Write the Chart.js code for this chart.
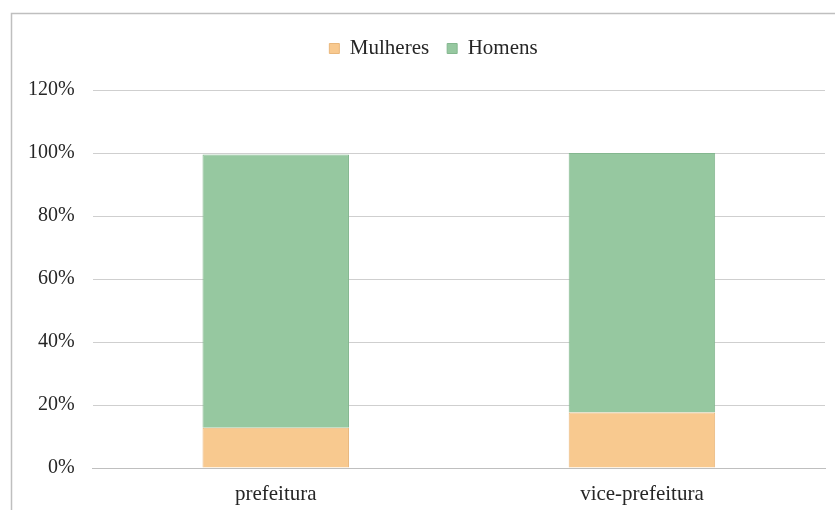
<!DOCTYPE html>
<html>
<head>
<meta charset="utf-8">
<script src="https://cdn.jsdelivr.net/npm/chart.js@4"></script>
<style>
  body { margin: 0; background: #fff; }
  #wrap { position: absolute; left: 0; top: 0; width: 835px; height: 510px; }
</style>
</head>
<body>
<div id="wrap"><canvas id="cargos"></canvas></div>
<script>
const categories = ["prefeitura", "vice-prefeitura"];
const mulheres = [12.8, 17.6];
const homens = [86.7, 82.4];
const yTicks = [0, 20, 40, 60, 80, 100, 120];

// gray frame around the chart, like the spreadsheet chart box
const frame = {
  id: "frame",
  beforeDraw(chart) {
    const ctx = chart.ctx;
    ctx.save();
    ctx.strokeStyle = "#bfbfbf";
    ctx.lineWidth = 1.5;
    ctx.strokeRect(11.5, 13.5, 900, 600);
    ctx.restore();
  }
};

// more room between the legend and the plot, legend a bit to the right
const legendGap = {
  id: "legendGap",
  beforeInit(chart) {
    const fit = chart.legend.fit;
    chart.legend.fit = function () {
      fit.bind(chart.legend)();
      this.height += 21;
    };
  },
  afterLayout(chart) {
    chart.legend.left += 16;
    chart.legend.right += 16;
  }
};

Chart.defaults.font.family = "'Liberation Serif', 'Times New Roman', serif";
Chart.defaults.font.size = 20;
Chart.defaults.color = "#262626";

new Chart("cargos", {
  type: "bar",
  data: {
    labels: categories,
    datasets: [
      {
        label: "Mulheres",
        data: mulheres,
        backgroundColor: "#f8c98f",
        borderColor: "#e9b77c",
        borderWidth: 1,
        categoryPercentage: 1,
        barPercentage: 0.4,
      },
      {
        label: "Homens",
        data: homens,
        backgroundColor: "#96c8a0",
        borderColor: "#84b78f",
        borderWidth: 1,
        categoryPercentage: 1,
        barPercentage: 0.4,
      },
    ],
  },
  options: {
    responsive: true,
    maintainAspectRatio: false,
    animation: false,
    layout: { padding: { left: 10, right: 10, top: 20, bottom: -11 } },
    plugins: {
      legend: {
        position: "top",
        labels: { boxWidth: 10, boxHeight: 10, padding: 18, font: { size: 21 } },
      },
      tooltip: { enabled: false },
    },
    scales: {
      x: {
        stacked: true,
        grid: { display: false, drawTicks: false },
        border: { color: "#bfbfbf", width: 1 },
        ticks: { padding: 16, font: { size: 21, lineHeight: 1 } },
      },
      y: {
        stacked: true,
        min: 0,
        max: 120,
        afterBuildTicks(axis) {
          axis.ticks = yTicks.map((v) => ({ value: v }));
        },
        grid: { color: "#cfcfcf", drawTicks: false },
        border: { display: false },
        ticks: { padding: 18, callback: (v) => v + "%" },
      },
    },
  },
  plugins: [frame, legendGap],
});
</script>
</body>
</html>
